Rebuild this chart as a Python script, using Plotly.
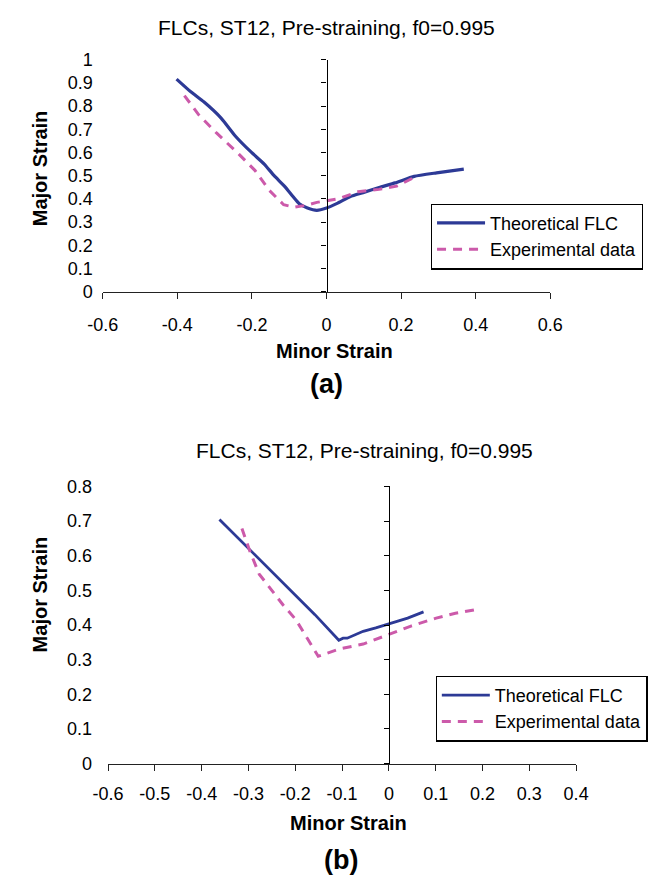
import plotly.graph_objects as go

# ---------------- data ----------------
TITLE = "FLCs, ST12, Pre-straining, f0=0.995"
X_LABEL = "Minor Strain"
Y_LABEL = "Major Strain"
SERIES_NAMES = ["Theoretical FLC", "Experimental data"]
PANEL_LABELS = ["(a)", "(b)"]

# panel (a)
a_theory_x = [-0.402, -0.363, -0.329, -0.282, -0.244, -0.201, -0.167, -0.141, -0.111, -0.090,
              -0.073, -0.051, -0.026, 0.000, 0.030, 0.064, 0.098, 0.141, 0.184, 0.235, 0.295, 0.368]
a_theory_y = [0.916, 0.860, 0.818, 0.747, 0.670, 0.600, 0.550, 0.501, 0.452, 0.410,
              0.379, 0.361, 0.351, 0.361, 0.382, 0.410, 0.427, 0.449, 0.469, 0.497, 0.512, 0.528]
a_exp_x = [-0.381, -0.342, -0.295, -0.235, -0.192, -0.154, -0.115, -0.086, -0.056, -0.026,
           0.030, 0.085, 0.141, 0.188, 0.241]
a_exp_y = [0.845, 0.761, 0.684, 0.593, 0.523, 0.438, 0.375, 0.364, 0.372, 0.385,
           0.400, 0.431, 0.441, 0.455, 0.497]

# panel (b)
b_theory_x = [-0.362, -0.301, -0.226, -0.158, -0.107, -0.098, -0.089, -0.055, -0.028, 0.000, 0.040, 0.074]
b_theory_y = [0.705, 0.623, 0.524, 0.430, 0.356, 0.362, 0.362, 0.382, 0.392, 0.403, 0.420, 0.438]
b_exp_x = [-0.314, -0.297, -0.277, -0.253, -0.226, -0.199, -0.175, -0.158, -0.151, -0.103,
           -0.055, 0.000, 0.047, 0.101, 0.142, 0.188]
b_exp_y = [0.679, 0.613, 0.547, 0.505, 0.458, 0.416, 0.364, 0.326, 0.310, 0.332,
           0.345, 0.373, 0.397, 0.420, 0.434, 0.445]

a_xticks = [-0.6, -0.4, -0.2, 0, 0.2, 0.4, 0.6]
a_xticklabels = ["-0.6", "-0.4", "-0.2", "0", "0.2", "0.4", "0.6"]
a_yticks = [0, 0.1, 0.2, 0.3, 0.4, 0.5, 0.6, 0.7, 0.8, 0.9, 1]
a_yticklabels = ["0", "0.1", "0.2", "0.3", "0.4", "0.5", "0.6", "0.7", "0.8", "0.9", "1"]
b_xticks = [-0.6, -0.5, -0.4, -0.3, -0.2, -0.1, 0, 0.1, 0.2, 0.3, 0.4]
b_xticklabels = ["-0.6", "-0.5", "-0.4", "-0.3", "-0.2", "-0.1", "0", "0.1", "0.2", "0.3", "0.4"]
b_yticks = [0, 0.1, 0.2, 0.3, 0.4, 0.5, 0.6, 0.7, 0.8]
b_yticklabels = ["0", "0.1", "0.2", "0.3", "0.4", "0.5", "0.6", "0.7", "0.8"]

# ---------------- style ----------------
W, H = 657, 886
BLUE = "#2D3A96"
PINK = "#CC5AAA"
FONT = "Liberation Sans, Arial, sans-serif"


def fx(px):
    return px / W


def fy(py):
    return 1 - py / H


a_xdom = [fx(90.7), fx(559)]
a_ydom = [fy(288.3), fy(50.7)]
b_xdom = [fx(96.3), fx(586)]
b_ydom = [fy(771), fy(487.5)]
a_xrange = [a_xticks[0], a_xticks[-1]]
b_xrange = [b_xticks[0], b_xticks[-1]]


def zero_pos(dom, rng):
    return dom[0] + (0 - rng[0]) / (rng[1] - rng[0]) * (dom[1] - dom[0])


fig = go.Figure()

dash = "9px,7px"
fig.add_trace(go.Scatter(x=a_theory_x, y=a_theory_y, mode="lines", name=SERIES_NAMES[0],
                         line=dict(color=BLUE, width=3.2, shape="spline", smoothing=0.5),
                         xaxis="x", yaxis="y", legend="legend"))
fig.add_trace(go.Scatter(x=a_exp_x, y=a_exp_y, mode="lines", name=SERIES_NAMES[1],
                         line=dict(color=PINK, width=3, dash=dash),
                         xaxis="x", yaxis="y", legend="legend"))
fig.add_trace(go.Scatter(x=b_theory_x, y=b_theory_y, mode="lines", name=SERIES_NAMES[0],
                         line=dict(color=BLUE, width=2.8),
                         xaxis="x2", yaxis="y2", legend="legend2"))
fig.add_trace(go.Scatter(x=b_exp_x, y=b_exp_y, mode="lines", name=SERIES_NAMES[1],
                         line=dict(color=PINK, width=3, dash=dash),
                         xaxis="x2", yaxis="y2", legend="legend2"))
# empty traces so the zero-line axes (y3, y4) get drawn
fig.add_trace(go.Scatter(x=[None], y=[None], mode="lines", showlegend=False, hoverinfo="skip",
                         xaxis="x", yaxis="y3"))
fig.add_trace(go.Scatter(x=[None], y=[None], mode="lines", showlegend=False, hoverinfo="skip",
                         xaxis="x2", yaxis="y4"))

xcommon = dict(showline=True, linecolor="#222222", linewidth=1.2, ticks="outside", ticklen=6,
               tickcolor="#222222", tickwidth=1.2, showgrid=False, zeroline=False,
               tickfont=dict(size=18, color="black", family=FONT))
ylab = dict(showline=False, ticks="", showgrid=False, zeroline=False,
            tickfont=dict(size=18, color="black", family=FONT))
yline = dict(showline=True, linecolor="black", linewidth=1.2, ticks="outside", ticklen=5,
             tickcolor="black", tickwidth=1.2, showgrid=False, zeroline=False,
             showticklabels=False, anchor="free", side="left")

legend_common = dict(xanchor="left", yanchor="top", bordercolor="black", borderwidth=1.2,
                     bgcolor="white", font=dict(size=18, color="black", family=FONT),
                     itemwidth=48, tracegroupgap=0)

annotations = [
    dict(text=TITLE, x=fx(325), y=fy(18), font=dict(size=21)),
    dict(text="<b>%s</b>" % X_LABEL, x=fx(333), y=fy(349), font=dict(size=20)),
    dict(text="<b>%s</b>" % Y_LABEL, x=fx(25), y=fy(162), textangle=-90, font=dict(size=20)),
    dict(text="<b>%s</b>" % PANEL_LABELS[0], x=fx(325), y=fy(383), font=dict(size=27)),
    dict(text=TITLE, x=fx(365), y=fy(451), font=dict(size=21)),
    dict(text="<b>%s</b>" % X_LABEL, x=fx(348), y=fy(832), font=dict(size=20)),
    dict(text="<b>%s</b>" % Y_LABEL, x=fx(25), y=fy(598), textangle=-90, font=dict(size=20)),
    dict(text="<b>%s</b>" % PANEL_LABELS[1], x=fx(340), y=fy(870), font=dict(size=27)),
]
for a in annotations:
    a.update(xref="paper", yref="paper", showarrow=False, xanchor="center", yanchor="middle")
    a["font"].update(family=FONT, color="black")

fig.update_layout(
    width=W, height=H, autosize=False,
    margin=dict(l=0, r=0, t=0, b=0),
    paper_bgcolor="white", plot_bgcolor="white",
    font=dict(family=FONT, color="black"),
    xaxis=dict(domain=a_xdom, range=a_xrange, anchor="y", tickvals=a_xticks,
               ticktext=a_xticklabels, ticklabelstandoff=11, **xcommon),
    yaxis=dict(domain=a_ydom, range=[a_yticks[0], a_yticks[-1]], anchor="x", tickvals=a_yticks,
               ticktext=a_yticklabels, ticklabelstandoff=9, **ylab),
    yaxis3=dict(overlaying="y", range=[a_yticks[0], a_yticks[-1]], tickvals=a_yticks,
                position=zero_pos(a_xdom, a_xrange), **yline),
    xaxis2=dict(domain=b_xdom, range=b_xrange, anchor="y2", tickvals=b_xticks,
                ticktext=b_xticklabels, ticklabelstandoff=8, **xcommon),
    yaxis2=dict(domain=b_ydom, range=[b_yticks[0], b_yticks[-1]], anchor="x2", tickvals=b_yticks,
                ticktext=b_yticklabels, ticklabelstandoff=15, **ylab),
    yaxis4=dict(overlaying="y2", range=[b_yticks[0], b_yticks[-1]], tickvals=b_yticks,
                position=zero_pos(b_xdom, b_xrange), **yline),
    legend=dict(x=fx(434), y=fy(198), **legend_common),
    legend2=dict(x=fx(439), y=fy(681), **legend_common),
    annotations=annotations,
    showlegend=True,
)

fig.write_html("out.html")
